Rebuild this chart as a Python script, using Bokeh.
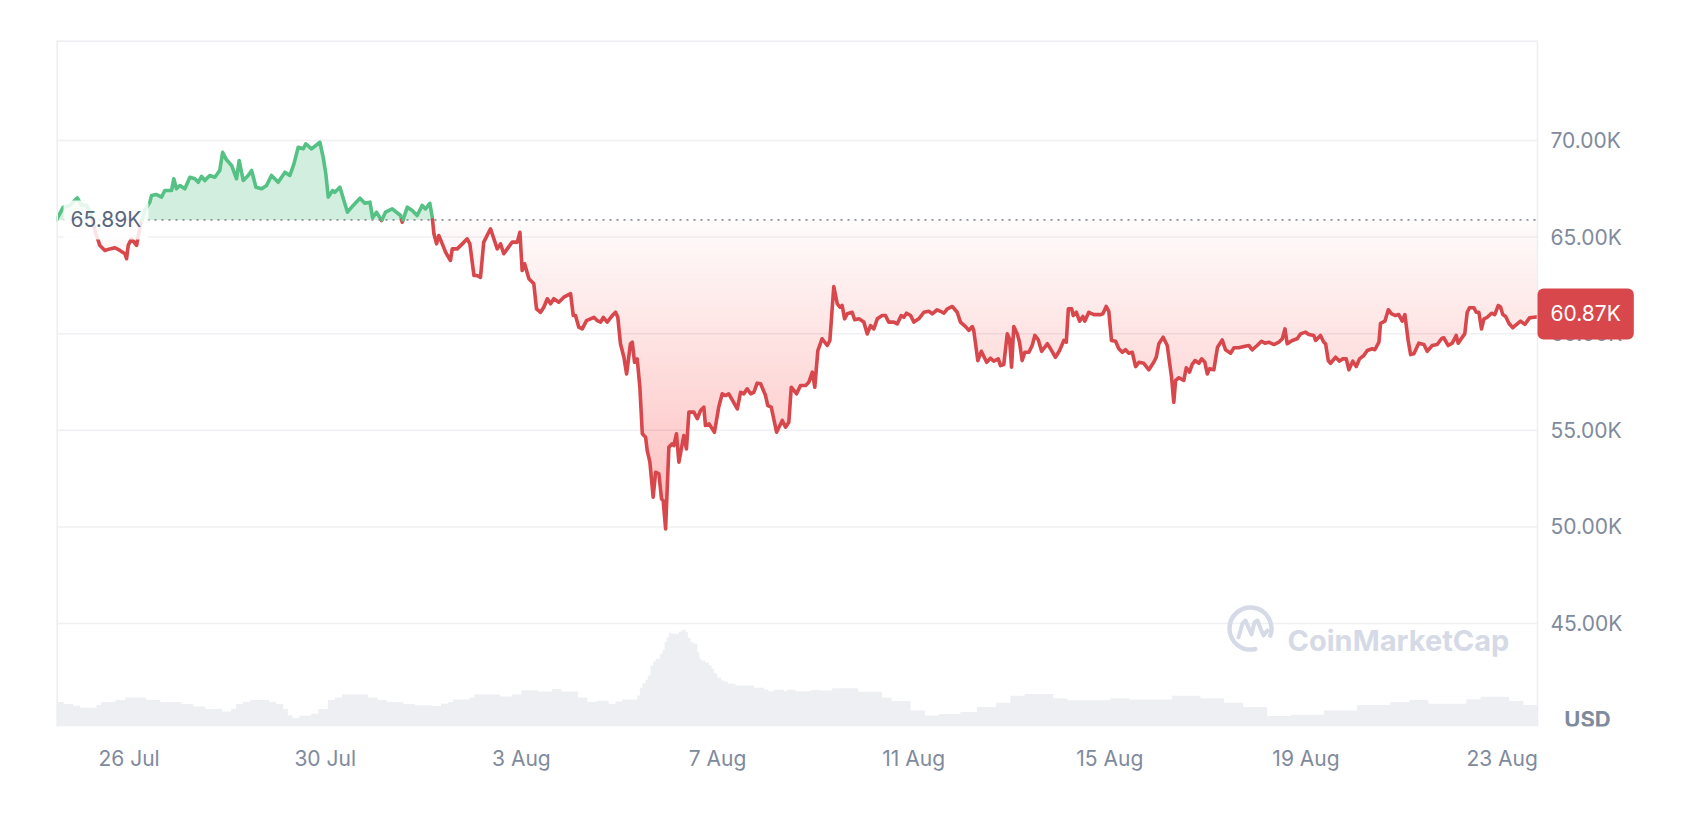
import numpy as np
from bokeh.plotting import figure
from bokeh.models import Range1d, FixedTicker, Label, Span
from bokeh.core.properties import value
from bokeh.embed import file_html
from bokeh.resources import INLINE

# ---------------- data ----------------
# hours since 2024-07-24 00:00
HOURS = [12.5, 15.8, 19.0, 22.7, 24.8, 27.2, 29.7, 31.6, 33.7, 36.2, 38.6, 41.1, 43.5, 46.0, 46.8, 47.6,
         49.2, 51.7, 53.3, 55.7, 58.2, 59.0, 61.5, 63.9, 65.5, 68.8, 69.9, 71.2, 72.9, 75.3, 77.8, 80.2,
         81.9, 83.5, 85.1, 87.5, 90.0, 92.4, 93.8, 95.7, 98.2, 100.6, 101.9, 103.9, 106.3, 108.0, 110.1,
         112.9, 115.3, 117.7, 121.0, 124.3, 126.7, 128.7, 130.8, 133.3, 134.5, 137.3, 141.4, 143.0, 144.3,
         145.5, 147.6, 148.7, 151.2, 154.9, 157.7, 161.0, 163.4, 165.9, 167.2, 169.1, 171.6, 173.5, 176.8,
         180.9, 181.7, 184.2, 186.6, 189.0, 191.5, 193.1, 195.2, 196.4, 197.2, 198.5, 199.6, 201.3, 202.9,
         205.3, 206.2, 208.6, 211.1, 213.5, 214.8, 216.8, 218.4, 220.0, 221.6, 224.9, 228.2, 229.8, 231.4,
         233.1, 235.5, 238.0, 239.3, 240.4, 241.6, 243.7, 246.1, 247.4, 249.4, 251.0, 252.7, 254.3, 255.9,
         258.3, 260.8, 264.1, 265.4, 266.5, 268.1, 269.8, 271.9, 275.5, 277.1, 278.8, 280.1, 282.0, 284.5,
         286.1, 287.2, 288.5, 290.2, 291.5, 293.4, 294.3, 295.4, 296.7, 298.0, 299.2, 300.8, 301.6, 302.9,
         304.5, 305.7, 307.3, 308.6, 309.4, 310.6, 312.2, 313.8, 314.6, 315.9, 317.1, 319.5, 320.8, 322.0,
         324.4, 326.1, 327.7, 329.3, 330.1, 331.8, 333.4, 334.5, 336.6, 338.3, 339.9, 341.5, 345.7, 347.3,
         348.9, 350.5, 352.2, 353.8, 355.4, 357.1, 359.5, 360.6, 362.3, 364.9, 367.7, 369.3, 370.9, 372.1,
         374.7, 376.6, 379.1, 380.7, 382.4, 383.6, 385.1, 387.2, 389.7, 391.0, 392.9, 394.6, 395.9, 397.0,
         398.2, 399.5, 401.9, 403.1, 405.2, 407.6, 409.3, 410.9, 412.5, 414.2, 416.6, 418.2, 419.8, 422.3,
         424.0, 425.9, 427.2, 428.5, 430.5, 432.1, 434.5, 437.0, 439.4, 441.1, 443.5, 445.1, 446.8, 448.5,
         450.9, 453.3, 454.9, 457.4, 459.0, 460.7, 461.4, 463.4, 465.1, 467.7, 469.6, 471.2, 473.4, 474.5,
         476.1, 477.8, 478.9, 479.9, 481.0, 482.7, 483.8, 485.1, 486.4, 488.4, 490.0, 491.3, 493.0, 494.6,
         496.2, 497.4, 499.0, 501.4, 503.4, 505.5, 506.7, 507.7, 509.3, 510.1, 511.6, 513.2, 514.8, 515.8,
         517.7, 520.2, 523.5, 524.6, 526.2, 527.5, 528.8, 530.8, 532.4, 534.1, 535.7, 537.3, 539.0, 540.6,
         542.2, 544.6, 547.1, 549.5, 550.7, 552.0, 554.1, 556.1, 557.2, 558.2, 559.3, 560.2, 561.8, 564.2,
         565.4, 567.0, 568.3, 569.7, 571.6, 572.9, 574.5, 575.7, 576.8, 578.9, 580.7, 583.0, 584.6, 587.1,
         588.7, 591.1, 593.6, 596.0, 597.7, 600.1, 602.2, 603.9, 605.8, 608.3, 610.7, 612.4, 613.7, 614.8,
         617.3, 619.7, 621.3, 623.8, 625.4, 627.8, 628.7, 631.1, 632.7, 633.6, 634.9, 636.0, 638.5, 640.4,
         642.0, 643.7, 645.0, 646.9, 648.6, 650.2, 652.3, 654.0, 656.4, 657.7, 659.7, 660.5, 662.6, 664.3,
         665.9, 667.8, 669.4, 671.1, 672.4, 674.0, 675.2, 676.8, 679.2, 681.7, 683.3, 685.8, 688.2, 690.3,
         691.4, 693.6, 695.6, 697.5, 698.5, 700.5, 701.7, 702.9, 704.0, 706.2, 707.3, 708.6, 709.9, 711.1,
         712.7, 714.8, 716.4, 718.1, 719.2, 720.3, 721.7, 723.3, 725.2, 727.4, 729.0, 731.1, 733.4, 735.5,
         737.3]

PRICE = [65890, 66550, 66640, 67030, 66640, 66640, 66120, 65240, 64570, 64310, 64390, 64450, 64310, 64140,
         63880, 64570, 64910, 64570, 65510, 66380, 66810, 67150, 67200, 67070, 67410, 67410, 68020, 67500,
         67670, 67500, 68100, 68020, 67840, 68140, 67930, 68190, 68100, 68450, 69390, 69000, 68710, 68020,
         68960, 67930, 68190, 68450, 67580, 67500, 67670, 68190, 67840, 68360, 68190, 68790, 69650, 69570,
         69830, 69570, 69910, 69140, 68280, 67070, 67410, 67320, 67580, 66290, 66640, 67010, 66750, 66810,
         66000, 66290, 65860, 66290, 66460, 66120, 65770, 66550, 66380, 66120, 66640, 66460, 66750, 66030,
         65170, 64650, 65080, 64650, 64220, 63790, 64390, 64390, 64650, 64910, 64650, 63010, 63010, 62920,
         64740, 65430, 64390, 64650, 64140, 64390, 64740, 64740, 65250, 63270, 63620, 62840, 62580, 61290,
         61110, 61370, 61810, 61550, 61810, 61630, 61890, 62070, 60940, 60940, 60340, 60250, 60680, 60850,
         60680, 60600, 60850, 60600, 60940, 61110, 60850, 59480, 58780, 57920, 59480, 59560, 58520, 58700,
         57230, 54820, 54640, 53950, 53350, 51540, 52830, 52750, 51450, 51370, 49900, 54130, 54300, 54210,
         54820, 53350, 54730, 54040, 55940, 55940, 55600, 56020, 56200, 55250, 55340, 55080, 54900, 56200,
         56890, 56800, 56890, 56110, 56970, 56890, 57150, 56890, 56970, 57440, 57410, 56800, 56280, 56200,
         54900, 55510, 55160, 55420, 57230, 56890, 57320, 57320, 57490, 58010, 57230, 59130, 59740, 59390,
         59650, 62440, 61550, 61370, 61460, 60770, 61030, 61110, 60720, 60770, 60600, 59990, 60420, 60250,
         60770, 60940, 60940, 60600, 60600, 60510, 60940, 60850, 61060, 60940, 60600, 60770, 61110, 61160,
         61030, 61240, 61160, 61060, 61290, 61410, 61110, 60600, 60370, 60170, 60370, 60170, 58610, 59090,
         58520, 58730, 58580, 58700, 58350, 58410, 59990, 59740, 58270, 60370, 59990, 59560, 58610, 59040,
         59040, 59390, 59910, 59680, 59090, 59300, 59480, 59220, 58780, 59130, 59650, 59560, 61290, 61290,
         60940, 61110, 60650, 60890, 60650, 61110, 60990, 60990, 61030, 61410, 61160, 59650, 59610, 59220,
         59040, 59170, 58990, 59040, 58300, 58520, 58470, 58130, 58520, 58780, 59480, 59820, 59390, 58520,
         57750, 56450, 57580, 57720, 57580, 58240, 58010, 58410, 58610, 58470, 58700, 58520, 57920, 58180,
         58130, 59300, 59680, 59170, 58990, 59270, 59270, 59340, 59390, 59170, 59390, 59610, 59510, 59560,
         59440, 59560, 59740, 60250, 59480, 59650, 59740, 59990, 60080, 59960, 59910, 59650, 59910, 59560,
         59480, 58610, 58470, 58780, 58580, 58700, 58700, 58130, 58580, 58300, 58700, 58870, 59130, 59220,
         59170, 59560, 60540, 60650, 61240, 61030, 60940, 60990, 60650, 60990, 59650, 58920, 58960, 59510,
         59440, 59090, 59390, 59440, 59740, 59790, 59390, 59510, 59910, 59510, 59820, 59990, 61110, 61340,
         61340, 61110, 61110, 60250, 60770, 60850, 61060, 60990, 61460, 61380, 60990, 60890, 60540, 60310,
         60510, 60650, 60480, 60820, 60850, 60870]

# trading volume (billion USD), step series, hours since 2024-07-24 00:00
VOL_HOURS = [12.5, 16.0, 20.6, 24.1, 32.1, 34.4, 41.4, 46.0, 56.4, 63.3, 73.7, 79.5, 85.3, 93.4, 98.0,
             100.3, 103.7, 107.2, 116.5, 119.9, 123.4, 125.7, 128.0, 131.4, 137.2, 140.7, 145.3, 148.8,
             152.2, 165.0, 169.6, 174.2, 182.2, 188.0, 196.1, 200.7, 204.2, 206.5, 214.6, 216.9, 229.6,
             235.4, 240.0, 248.1, 255.0, 259.6, 267.7, 272.3, 276.9, 282.7, 286.1, 289.4, 296.7, 298.0,
             299.2, 300.8, 301.9, 303.2, 304.5, 305.7, 307.8, 309.1, 310.1, 311.1, 312.2, 313.4, 317.1,
             318.7, 320.4, 321.5, 322.8, 324.4, 326.1, 327.2, 328.0, 330.1, 331.8, 333.1, 334.2, 335.9,
             337.8, 339.4, 341.1, 344.8, 353.8, 358.7, 360.8, 363.6, 368.5, 370.1, 374.2, 381.7, 386.3,
             392.1, 404.9, 416.5, 421.2, 430.5, 437.5, 444.4, 454.9, 463.0, 472.3, 479.3, 486.3, 500.3,
             507.2, 528.2, 537.5, 558.4, 572.3, 583.9, 593.3, 604.9, 616.5, 632.8, 649.0, 665.3, 674.6,
             683.9, 702.5, 709.5, 723.4, 730.4, 737.3]
VOLUME_BN = [24.5, 22.5, 20.8, 18.7, 21.6, 24.5, 26.6, 29.1, 26.6, 24.5, 22.5, 20.0, 17.4, 14.9, 17.4,
             22.5, 24.5, 26.6, 24.5, 22.5, 17.4, 11.2, 8.2, 10.8, 12.8, 17.4, 26.6, 29.1,
             32.1, 29.1, 26.6, 24.5, 22.5, 21.2, 20.4, 22.9, 24.5, 27.1, 29.1, 32.1, 30.0,
             32.1, 36.3, 35.0, 37.5, 35.0, 29.1, 24.5, 25.8, 22.5, 25.0, 27.0, 31.0, 38.7,
             43.3, 46.7, 51.0, 61.0, 65.0, 67.7, 72.7, 76.7, 84.3, 89.3, 93.7, 92.7, 95.0,
             96.7, 94.3, 88.7, 84.3, 82.7, 74.3, 67.7, 66.0, 63.7, 61.0, 57.7, 53.3, 48.7,
             46.0, 44.7, 42.7, 41.0, 38.7, 37.0, 35.3, 36.7, 35.3, 36.7, 35.3, 36.5, 35.9,
             38.3, 34.8, 29.0, 25.5, 15.9, 11.1, 12.5, 14.5, 19.4, 23.8, 30.7, 32.4, 28.3,
             26.2, 28.3, 26.9, 30.7, 28.3, 23.8, 19.4, 10.4, 11.8, 15.9, 21.4, 24.5, 26.6,
             22.8, 27.3, 29.7, 25.5, 21.4, 21.4]

X_TICKS = [48, 144, 240, 336, 432, 528, 624, 720]
X_TICK_LABELS = ["26 Jul", "30 Jul", "3 Aug", "7 Aug", "11 Aug", "15 Aug", "19 Aug", "23 Aug"]
Y_TICKS = [45000, 50000, 55000, 60000, 65000, 70000]
Y_TICK_LABELS = ["45.00K", "50.00K", "55.00K", "60.00K", "65.00K", "70.00K"]
CURRENCY = "USD"
WATERMARK = "CoinMarketCap"

# ---------------- style ----------------
Y_MIN, Y_MAX = 39670, 75176
DATA_W, FRAME_W, FRAME_H = 1481, 1600, 686   # chart area width, full frame incl. price scale
GREEN = "#55c184"
RED = "#d8474b"
GRID = "#eff0f3"
EDGE = "#eceef2"
AXIS_TXT = "#808a9d"
WM_COL = "#d5dae6"
FONT = "Inter"
FS = "21px"

t = np.asarray(HOURS, dtype=float)
pr = np.asarray(PRICE, dtype=float)
ref = pr[0]
x0, x1 = t[0], t[-1]
sx = (x1 - x0) / DATA_W           # data units per screen pixel
sy = (Y_MAX - Y_MIN) / FRAME_H
x_end = x0 + FRAME_W * sx

# insert crossing points with the reference (opening) price
xs_all, ys_all = [t[0]], [pr[0]]
for i in range(1, len(t)):
    a, b = pr[i - 1] - ref, pr[i] - ref
    if a * b < 0:
        f = a / (a - b)
        xs_all.append(t[i - 1] + f * (t[i] - t[i - 1]))
        ys_all.append(ref)
    xs_all.append(t[i])
    ys_all.append(pr[i])
xs_all = np.array(xs_all)
ys_all = np.array(ys_all)

p = figure(frame_width=FRAME_W, frame_height=FRAME_H,
           x_range=Range1d(x0, x_end), y_range=Range1d(Y_MIN, Y_MAX),
           y_axis_location=None, output_backend="svg", toolbar_location=None,
           min_border_left=56, min_border_top=40, min_border_right=10, min_border_bottom=74,
           background_fill_color="white", border_fill_color="white",
           outline_line_color=None)
p.extra_y_ranges = {"vol": Range1d(0, FRAME_H)}
p.xgrid.grid_line_color = None
p.ygrid.grid_line_color = None
p.ygrid.visible = False

# horizontal grid lines over the chart area only
p.segment(x0=x0, x1=x1, y0=Y_TICKS, y1=Y_TICKS, line_color=GRID, line_width=1.5)

# chart area edges (left, right, top)
p.add_layout(Span(location=x0, dimension="height", line_color=EDGE, line_width=3))
p.add_layout(Span(location=x1, dimension="height", line_color=EDGE, line_width=1.5))
p.segment(x0=[x0], x1=[x1], y0=[Y_MAX], y1=[Y_MAX], line_color=EDGE, line_width=3)

# volume
p.varea_step(x=list(VOL_HOURS), y1=0, y2=list(VOLUME_BN), step_mode="after", y_range_name="vol",
             fill_color="#eeeff3")

# green fill above reference
p.varea(x=xs_all, y1=ref, y2=np.maximum(ys_all, ref), fill_color=GREEN, fill_alpha=0.27)

# red gradient fill below reference
p.varea(x=xs_all, y1=np.minimum(ys_all, ref), y2=ref, fill_color=RED, fill_alpha=0.025)
step = 250.0
lev = ref - step
while lev > pr.min():
    p.varea(x=xs_all, y1=np.minimum(ys_all, lev), y2=lev, fill_color=RED, fill_alpha=0.0026)
    lev -= step

# reference dotted line
p.segment(x0=[x0], x1=[x1], y0=[ref], y1=[ref], line_color="#8a8f97",
          line_width=1.6, line_dash="2 5")

# price line split into green / red runs
seg_x, seg_y, seg_c = [], [], []
cx, cy, cc = [xs_all[0]], [ys_all[0]], None
for k in range(1, len(xs_all)):
    mid = 0.5 * (ys_all[k - 1] + ys_all[k])
    c = GREEN if mid >= ref else RED
    if cc is None:
        cc = c
    if c != cc:
        seg_x.append(cx); seg_y.append(cy); seg_c.append(cc)
        cx, cy, cc = [xs_all[k - 1]], [ys_all[k - 1]], c
    cx.append(xs_all[k]); cy.append(ys_all[k])
seg_x.append(cx); seg_y.append(cy); seg_c.append(cc)
p.multi_line(xs=[list(s) for s in seg_x], ys=[list(s) for s in seg_y], line_color=seg_c,
             line_width=3.6, line_join="round", line_cap="round")

# price scale (right)
p.text(x=x1 + 13 * sx, y=Y_TICKS, text=Y_TICK_LABELS, text_align="left", text_baseline="middle",
       text_font=value(FONT), text_font_size=FS, text_color=AXIS_TXT)

# time axis
p.xaxis.ticker = FixedTicker(ticks=X_TICKS)
p.xaxis.major_label_overrides = dict(zip(X_TICKS, X_TICK_LABELS))
p.xaxis.axis_line_color = None
p.xaxis.major_tick_line_color = None
p.xaxis.minor_tick_line_color = None
p.xaxis.major_tick_out = 0
p.xaxis.major_tick_in = 0
p.xaxis.major_label_text_font = FONT
p.xaxis.major_label_text_font_size = FS
p.xaxis.major_label_text_color = AXIS_TXT
p.xaxis.major_label_standoff = 19

# watermark
p.add_layout(Label(x=x0 + 1231 * sx, y=Y_MIN + 86 * sy, text=WATERMARK,
                   text_font=FONT, text_font_size="29px", text_font_style="bold",
                   text_color=WM_COL, text_align="left", text_baseline="alphabetic"))
lcx, lcy = x0 + 1194 * sx, Y_MIN + 98 * sy
p.arc(x=[lcx], y=[lcy], radius=21, radius_units="screen",
      start_angle=np.radians(-20), end_angle=np.radians(283),
      line_color=WM_COL, line_width=4.5, line_cap="round")
mx = [-12, -8, -5, -2, 1, 4, 7, 10, 13, 17]
my = [-9, 5, 8, 1, -6, 6, 8, 0, -7, -2]
p.line(x=[lcx + v * sx for v in mx], y=[lcy + v * sy for v in my], line_color=WM_COL,
       line_width=4, line_join="round", line_cap="round")

# reference value label
p.add_layout(Label(x=x0 + 7 * sx, y=ref, text=f"{ref / 1000:.2f}K",
                   text_font=FONT, text_font_size=FS, text_color="#58667e",
                   text_align="left", text_baseline="middle",
                   background_fill_color="white", background_fill_alpha=0.85,
                   padding=7, border_radius=4))

# last price badge (sits slightly above the line end, as in the original)
p.add_layout(Label(x=x1, y=pr[-1] + 3 * sy, text=f"{pr[-1] / 1000:.2f}K",
                   text_font=FONT, text_font_size=FS, text_color="white",
                   text_align="left", text_baseline="middle",
                   background_fill_color=RED, padding=13, border_radius=6))

# currency label
p.add_layout(Label(x=x1 + 50 * sx, y=Y_MIN + 8 * sy, text=CURRENCY,
                   text_font=FONT, text_font_size="22px", text_font_style="bold",
                   text_color=AXIS_TXT, text_align="center", text_baseline="middle"))

open("out.html", "w").write(file_html(p, INLINE))
